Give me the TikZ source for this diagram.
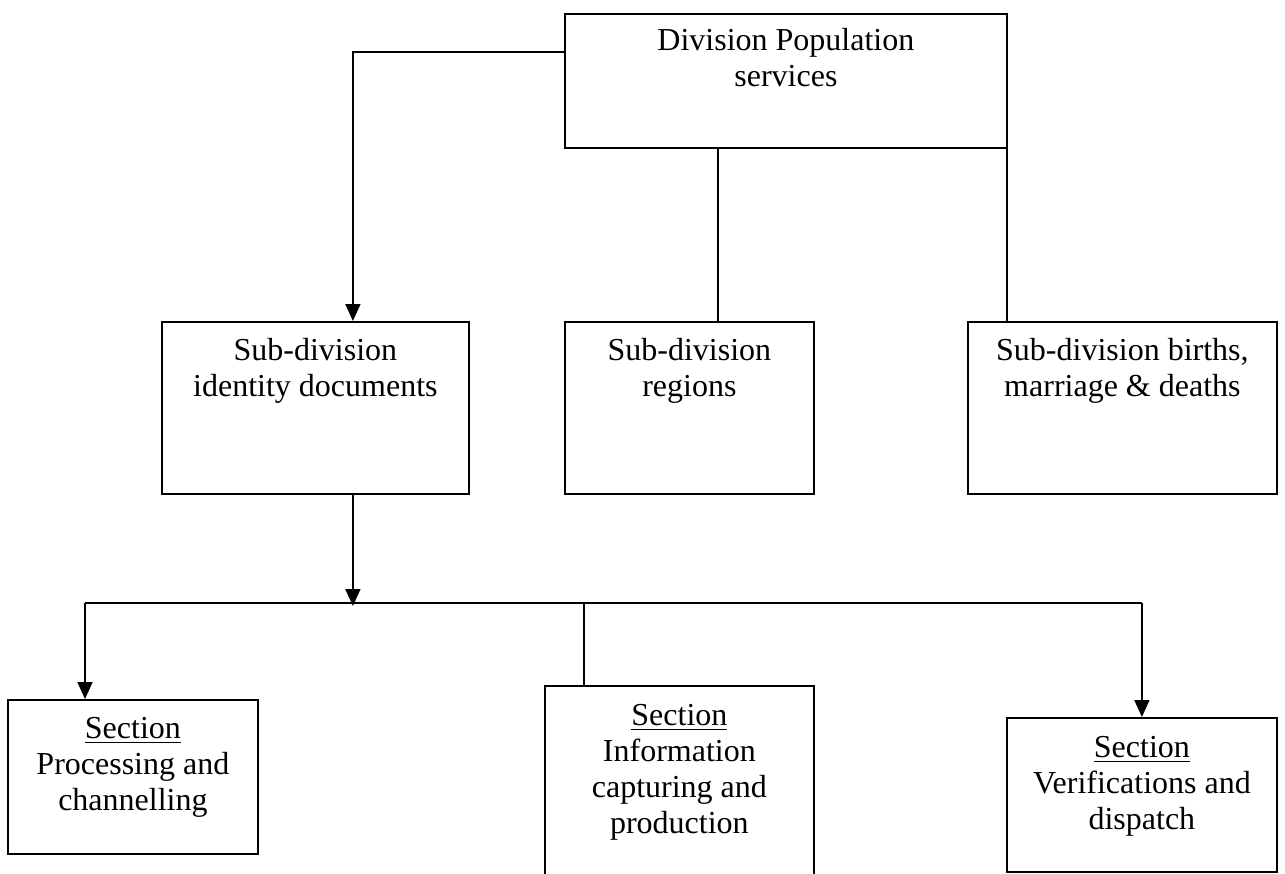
\documentclass[tikz,border=0pt]{standalone}
\usepackage{fontspec}
\setmainfont{Liberation Serif}
\usetikzlibrary{arrows.meta}
\newcommand\myul[1]{\setbox0\hbox{#1}\rlap{\rule[-5pt]{\wd0}{1.5pt}}\box0}
\tikzset{
  box/.style={draw, line width=1.8pt, inner sep=0pt, anchor=north west},
  txt/.style={anchor=north, inner sep=0pt, align=center, font=\fontsize{32}{36}\selectfont},
  conn/.style={line width=1.8pt},
  arr/.style={conn, -{Triangle[length=17pt,width=15pt]}}
}
\newcommand\fs{\rule{0pt}{24pt}}
\begin{document}
\begin{tikzpicture}[x=1pt,y=-1pt]
\clip (0,0) rectangle (1285,873);
\fill[white] (0,0) rectangle (1285,873);
% boxes
\node[box, minimum width=442pt, minimum height=134pt] (top) at (564,13) {};
\node[box, minimum width=307pt, minimum height=172pt] (sL) at (161,321) {};
\node[box, minimum width=249pt, minimum height=172pt] (sM) at (564,321) {};
\node[box, minimum width=309pt, minimum height=172pt] (sR) at (967,321) {};
\node[box, minimum width=250pt, minimum height=154pt] (bL) at (7,699) {};
\node[box, minimum width=269pt, minimum height=220pt] (bM) at (544,685) {};
\node[box, minimum width=270pt, minimum height=154pt] (bR) at (1006,717) {};
% texts
\node[txt] (tTop) at ([yshift=-13pt]top.north) {\fs Division Population\\services};
\node[txt] (tSL) at ([yshift=-15pt]sL.north) {\fs Sub-division\\identity documents};
\node[txt] (tSM) at ([yshift=-15pt]sM.north) {\fs Sub-division\\regions};
\node[txt] (tSR) at ([yshift=-15pt]sR.north) {\fs Sub-division births,\\marriage \& deaths};
\node[txt] (tBL) at ([yshift=-15pt]bL.north) {\fs\myul{Section}\\Processing and\\channelling};
\node[txt] (tBM) at ([yshift=-16pt]bM.north) {\fs\myul{Section}\\Information\\capturing and\\production};
\node[txt] (tBR) at ([yshift=-16pt]bR.north) {\fs\myul{Section}\\Verifications and\\dispatch};
% connectors
\coordinate (busL) at (85,603);
\coordinate (busR) at (bR.north |- busL);
\draw[arr] ([yshift=-39pt]top.north west) -| ([xshift=37.5pt]sL.north);
\draw[conn] ([xshift=-68pt]top.south) -- ([xshift=-68pt]top.south |- sM.north);
\draw[conn] ([xshift=-0.5pt]top.south east) -- ([xshift=-0.5pt]top.south east |- sR.north);
\draw[conn] (busL) -- (busR);
\draw[arr] ([xshift=37.5pt]sL.south) -- ([xshift=37.5pt,yshift=-3pt]sL.south |- busL);
\draw[arr] (busL) -- (busL |- bL.north);
\draw[conn] ([xshift=-95.5pt]bM.north |- busL) -- ([xshift=-95.5pt]bM.north);
\draw[arr] (busR) -- (busR |- bR.north);
\end{tikzpicture}
\end{document}
